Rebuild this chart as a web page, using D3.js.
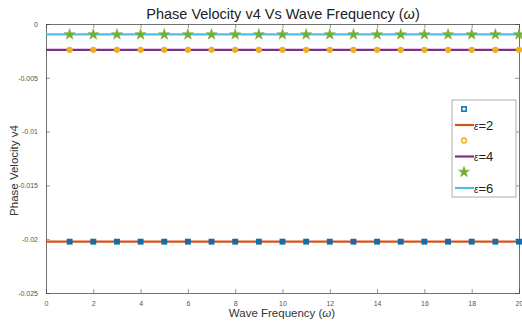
<!DOCTYPE html>
<html>
<head>
<meta charset="utf-8">
<script src="https://cdnjs.cloudflare.com/ajax/libs/d3/7.8.4/d3.min.js"></script>
<style>
  body { margin: 0; background: #fff; }
  text { font-family: "Liberation Sans", Arial, sans-serif; }
</style>
</head>
<body>
<div id="chart"></div>
<script>
// data
const freq = d3.range(1, 21);                 // omega = 1..20
const v4eps2 = freq.map(() => -0.02023);
const v4eps4 = freq.map(() => -0.0024);
const v4eps6 = freq.map(() => -0.00097);
const xTicks = [0, 2, 4, 6, 8, 10, 12, 14, 16, 18, 20];
const yTicks = [0, -0.005, -0.01, -0.015, -0.02, -0.025];

const W = 522, H = 324;
const margin = {top: 24, right: 3, bottom: 31, left: 46};
const width = W - margin.left - margin.right,
      height = H - margin.top - margin.bottom;

const svg = d3.select("#chart").append("svg")
  .attr("width", W).attr("height", H);

const g = svg.append("g")
  .attr("transform", `translate(${margin.left},${margin.top})`);

const x = d3.scaleLinear().domain([0, 20]).range([0, width]);
const y = d3.scaleLinear().domain([-0.025, 0]).range([height, 0]);

// axes (inward ticks, MATLAB style)
const axisCol = "#4d4d4d";
const xAx = g.append("g").attr("transform", `translate(0,${height})`)
  .call(d3.axisBottom(x).tickValues(xTicks).tickSize(-4).tickPadding(8).tickFormat(d3.format("d")));
const xTop = g.append("g")
  .call(d3.axisTop(x).tickValues(xTicks).tickSize(-4).tickFormat(""));
const yAx = g.append("g")
  .call(d3.axisLeft(y).tickValues(yTicks).tickSize(-4).tickPadding(8).tickFormat(d => d === 0 ? "0" : String(+d.toFixed(3))));
const yRight = g.append("g").attr("transform", `translate(${width},0)`)
  .call(d3.axisRight(y).tickValues(yTicks).tickSize(-4).tickFormat(""));

[xAx, xTop, yAx, yRight].forEach(a => {
  a.select(".domain").attr("stroke", axisCol).attr("stroke-width", 0.8);
  a.selectAll(".tick line").attr("stroke", axisCol).attr("stroke-width", 0.6);
  a.selectAll("text").attr("fill", "#555").style("font-size", "7px");
});

const series = [
  {vals: v4eps2, line: "#D95319", mk: "#0072BD", shape: "square", label: "\u03B5=2"},
  {vals: v4eps4, line: "#7E2F8E", mk: "#EDB120", shape: "circle", label: "\u03B5=4"},
  {vals: v4eps6, line: "#4DBEEE", mk: "#77AC30", shape: "star", label: "\u03B5=6"}
];

// extend line across full width like the reference (0..20)
const fullLine = vals => [[0, vals[0]], ...freq.map((f, i) => [f, vals[i]])];

function marker(sel, s, cx, cy, fill) {
  if (s.shape === "square") {
    sel.append("rect").attr("x", cx - 2.2).attr("y", cy - 2.2)
      .attr("width", 4.4).attr("height", 4.4)
      .attr("fill", fill ? "#3a6186" : "none").attr("stroke", s.mk).attr("stroke-width", 1.5);
  } else if (s.shape === "circle") {
    sel.append("circle").attr("cx", cx).attr("cy", cy).attr("r", 2.4)
      .attr("fill", fill ? s.mk : "none").attr("stroke", s.mk).attr("stroke-width", 1.5);
  } else {
    sel.append("path").attr("transform", `translate(${cx},${cy})`)
      .attr("d", d3.symbol(d3.symbolStar, 38)())
      .attr("fill", s.mk).attr("stroke", s.mk).attr("stroke-width", 0.5);
  }
}

series.forEach(s => {
  g.append("path")
    .attr("d", d3.line().x(d => x(d[0])).y(d => y(d[1]))(fullLine(s.vals)))
    .attr("fill", "none").attr("stroke", s.line).attr("stroke-width", 2.2);
  const mg = g.append("g");
  freq.forEach((f, i) => marker(mg, s, x(f), y(s.vals[i]), true));
});

// title and labels
svg.append("text").attr("x", 283).attr("y", 19).attr("text-anchor", "middle")
  .style("font-size", "14.5px").attr("fill", "#222")
  .html("Phase Velocity v4 Vs Wave Frequency (<tspan font-style='italic'>\u03C9</tspan>)");
svg.append("text").attr("x", 282).attr("y", 317).attr("text-anchor", "middle")
  .style("font-size", "11.5px").attr("fill", "#333")
  .html("Wave Frequency (<tspan font-style='italic'>\u03C9</tspan>)");
svg.append("text").attr("transform", `translate(18,${margin.top + height / 2 + 12}) rotate(-90)`)
  .attr("text-anchor", "middle").style("font-size", "11.5px").attr("fill", "#333")
  .text("Phase Velocity v4");

// legend
const lg = svg.append("g").attr("transform", "translate(452,100)");
lg.append("rect").attr("width", 64).attr("height", 97)
  .attr("fill", "#fff").attr("stroke", "#999").attr("stroke-width", 0.8);
series.forEach((s, i) => {
  const y0 = 9 + i * 31.5;
  marker(lg, s, 12, y0, false);
  lg.append("line").attr("x1", 3).attr("x2", 22).attr("y1", y0 + 16).attr("y2", y0 + 16)
    .attr("stroke", s.line).attr("stroke-width", 2.2);
  lg.append("text").attr("x", 22).attr("y", y0 + 20.5)
    .style("font-size", "13px").attr("fill", "#222")
    .html("<tspan font-style='italic' font-size='10px'>\u03B5</tspan>" + s.label.slice(1));
});
</script>
</body>
</html>
